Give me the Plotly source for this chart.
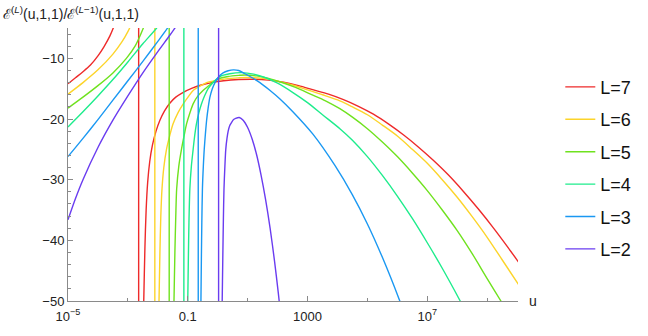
import plotly.graph_objects as go

# ---------------- data (x given as log10(u)) ----------------
SERIES_NAMES = ["L=7", "L=6", "L=5", "L=4", "L=3", "L=2"]
SERIES_COLORS = ["#ee2a2a", "#fcd42a", "#6fe21e", "#1eec8c", "#1a98f2", "#6a3cf0"]

# values used to draw the pole lines (beyond the visible range)
POLE_TOP = 100
POLE_BOTTOM = -200

# L = 7
L7_left_logu = [-5, -4.75, -4.5, -4.25, -4.0, -3.8, -3.6, -3.45, -3.3]
L7_left_val = [-14.2, -13.2, -12.2, -11.1, -9.6, -8.1, -6.3, -4.5, -2.2]
L7_pole_logu = -2.64
L7_right_logu = [-2.56, -2.51, -2.47, -2.43, -2.39, -2.34, -2.27, -2.18, -2.06, -1.93, -1.78, -1.6,
                 -1.4, -1.15, -0.85, -0.55, -0.2, 0.2, 0.7, 1.2, 1.7, 2.2, 2.7, 3.2, 3.7, 4.2, 4.7,
                 5.2, 5.7, 6.2, 6.7, 7.2, 7.7, 8.2, 8.7, 9.2, 9.7, 10.05]
L7_right_val = [-80, -60, -50, -41, -35, -30.5, -27, -24.3, -22.0, -20.2, -18.7, -17.4,
                -16.4, -15.6, -14.9, -14.4, -14.0, -13.7, -13.5, -13.45, -13.6, -13.95, -14.5, -15.2,
                -15.9, -16.8, -17.9, -19.2, -20.8, -22.6, -24.6, -26.8, -29.2, -31.9, -34.8, -37.9,
                -41.2, -43.6]

# L = 6
L6_left_logu = [-5, -4.5, -4.0, -3.5, -3.2, -3.0, -2.85, -2.7]
L6_left_val = [-15.9, -14.0, -11.9, -9.3, -7.3, -5.6, -4.0, -2.0]
L6_pole_logu = -2.10
L6_right_logu = [-2.04, -1.99, -1.96, -1.93, -1.90, -1.86, -1.80, -1.71, -1.60, -1.49, -1.32, -1.15,
                 -0.98, -0.82, -0.6, -0.37, 0.0, 0.4, 0.74, 1.0, 1.5, 2.0, 2.5, 3.0, 3.5, 4.08, 4.5,
                 5.0, 5.5, 6.0, 6.5, 7.0, 7.5, 8.0, 8.5, 9.0, 9.5, 10.05]
L6_right_val = [-80, -58, -50, -42, -36, -31.5, -28, -25, -22.7, -20.8, -18.9, -17.5,
                -16.3, -15.3, -14.6, -14.0, -13.6, -13.3, -13.2, -13.15, -13.3, -13.75, -14.4, -15.2,
                -16.0, -17.0, -18.0, -19.3, -21.0, -22.8, -25.0, -27.3, -30.0, -32.9, -36.1, -39.5,
                -43.2, -47.3]

# L = 5
L5_left_logu = [-5, -4.5, -4.0, -3.5, -3.05, -2.75, -2.5, -2.3]
L5_left_val = [-18.2, -16.4, -14.5, -12.4, -10.0, -7.9, -5.2, -2.6]
L5_pole_logu = -1.62
L5_right_logu = [-1.55, -1.50, -1.46, -1.43, -1.40, -1.37, -1.30, -1.21, -1.12, -1.04, -0.93, -0.82,
                 -0.66, -0.49, -0.25, -0.04, 0.35, 0.74, 0.9, 1.3, 1.7, 2.1, 2.6, 3.1, 3.6, 4.08, 4.5,
                 5.0, 5.5, 6.0, 6.5, 7.0, 7.5, 8.0, 8.5, 9.0, 9.46, 9.8]
L5_right_val = [-80, -60, -50, -42, -36, -31.5, -27.8, -25, -22.7, -20.8, -19.0, -17.5,
                -16.2, -15.3, -14.3, -13.5, -13.0, -12.8, -12.75, -12.9, -13.3, -13.9, -14.8, -15.9,
                -17.0, -18.3, -19.7, -21.6, -23.8, -26.2, -28.9, -31.8, -35.0, -38.4, -42.2, -46.3,
                -50, -52.8]

# L = 4
L4_left_logu = [-5, -4.5, -4.0, -3.5, -3.0, -2.5, -2.04, -1.8]
L4_left_val = [-21.3, -18.8, -16.2, -13.5, -10.6, -7.6, -5.0, -3.3]
L4_pole_logu = -1.13
L4_right_logu = [-1.07, -1.03, -1.00, -0.98, -0.96, -0.93, -0.88, -0.82, -0.77, -0.71, -0.63, -0.54,
                 -0.43, -0.32, -0.12, 0.07, 0.4, 0.8, 1.2, 1.6, 2.0, 2.5, 3.0, 3.5, 4.08, 4.5, 5.0,
                 5.5, 6.0, 6.5, 7.0, 7.5, 8.1, 8.5]
L4_right_val = [-80, -60, -50, -43, -37, -31.5, -27.8, -25, -22.8, -20.8, -19.0, -17.5,
                -16.1, -15.0, -13.8, -13.0, -12.55, -12.35, -12.6, -13.2, -14.1, -15.6, -17.3, -19.3,
                -21.6, -23.5, -26.2, -29.3, -32.7, -36.4, -40.4, -44.6, -50, -53.8]

# L = 3
L3_left_logu = [-5, -4.5, -4.0, -3.5, -3.0, -2.5, -2.0, -1.66, -1.45]
L3_left_val = [-26.2, -23.2, -20.1, -16.9, -13.7, -10.5, -7.2, -4.9, -3.3]
L3_pole_logu = -0.65
L3_right_logu = [-0.60, -0.58, -0.56, -0.545, -0.53, -0.51, -0.48, -0.45, -0.41, -0.37, -0.32, -0.26,
                 -0.18, -0.09, 0.04, 0.18, 0.35, 0.52, 0.7, 0.9, 1.15, 1.41, 1.75, 2.08, 2.51, 3.18,
                 3.92, 4.5, 5.0, 5.5, 6.06, 6.4]
L3_right_val = [-80, -60, -50, -43, -37, -31.5, -27.8, -25, -22.4, -20.2, -18.2, -16.4,
                -15.0, -14.0, -13.0, -12.4, -12.05, -11.9, -12.0, -12.5, -13.2, -14.0, -15.3, -16.7,
                -18.8, -22.5, -27.7, -32.5, -37.3, -42.8, -49.7, -54.3]

# L = 2
L2_left_logu = [-5, -4.75, -4.5, -4.0, -3.5, -3.0, -2.5, -2.0, -1.6, -1.43, -1.2]
L2_left_val = [-36.6, -33.1, -30.0, -24.7, -20.2, -16.2, -12.4, -8.9, -6.2, -5.0, -3.4]
L2_pole_logu = 0.03
L2_right_logu = [0.09, 0.12, 0.15, 0.17, 0.19, 0.21, 0.24, 0.27, 0.31, 0.35, 0.40, 0.46, 0.53, 0.6,
                 0.72, 0.85, 1.0, 1.15, 1.3, 1.45, 1.6, 1.75, 1.9, 2.02, 2.12]
L2_right_val = [-80, -60, -50, -43, -36.5, -31.5, -27.8, -25, -23.2, -22.0, -21.1, -20.6, -20.1, -19.9,
                -19.75, -20.2, -21.4, -23.3, -25.9, -29.3, -33.3, -38.0, -43.5, -48.5, -53]

X_TICK_VALS = [1e-5, 0.1, 1000, 1e7]
X_TICK_TEXT = ["10<sup>\u22125</sup>", "0.1", "1000", "10<sup>7</sup>"]
X_MINOR_VALS = [1e-3, 10, 1e5, 1e9]
Y_TICK_VALS = [-10, -20, -30, -40, -50]

SERIES = [
    (L7_left_logu, L7_left_val, L7_pole_logu, L7_right_logu, L7_right_val),
    (L6_left_logu, L6_left_val, L6_pole_logu, L6_right_logu, L6_right_val),
    (L5_left_logu, L5_left_val, L5_pole_logu, L5_right_logu, L5_right_val),
    (L4_left_logu, L4_left_val, L4_pole_logu, L4_right_logu, L4_right_val),
    (L3_left_logu, L3_left_val, L3_pole_logu, L3_right_logu, L3_right_val),
    (L2_left_logu, L2_left_val, L2_pole_logu, L2_right_logu, L2_right_val),
]

FONT = "Liberation Sans, Arial, sans-serif"

fig = go.Figure()
for name, color, (lt, lv, pt, rt, rv) in zip(SERIES_NAMES, SERIES_COLORS, SERIES):
    xs = [10 ** t for t in lt] + [None] + [10 ** pt, 10 ** pt] + [None] + [10 ** t for t in rt]
    ys = list(lv) + [None] + [POLE_TOP, POLE_BOTTOM] + [None] + list(rv)
    fig.add_trace(go.Scatter(
        x=xs, y=ys, mode="lines", name=name, legendgroup=name,
        line=dict(color=color, width=1.4, shape="spline", smoothing=0.8),
        connectgaps=False,
    ))

axis_gray = "#8a8a8a"
fig.update_layout(
    width=648, height=336,
    margin=dict(l=68, r=128, t=28, b=29),
    paper_bgcolor="white", plot_bgcolor="white",
    font=dict(family=FONT, size=13, color="#222"),
    showlegend=True,
    legend=dict(
        x=1.094, y=0.851, xanchor="left", yanchor="top",
        font=dict(size=18, color="#111"),
        tracegroupgap=6, itemwidth=30,
        bgcolor="rgba(0,0,0,0)",
    ),
    xaxis=dict(
        type="log", range=[-5, 10.03],
        showgrid=False, zeroline=False,
        showline=True, linecolor=axis_gray, linewidth=1,
        ticks="inside", ticklen=5, tickcolor=axis_gray, tickwidth=1,
        tickvals=X_TICK_VALS, ticktext=X_TICK_TEXT,
        tickfont=dict(size=13, color="#222"),
        ticklabelstandoff=3,
        minor=dict(tickvals=X_MINOR_VALS, ticks="inside", ticklen=3, tickcolor=axis_gray),
        fixedrange=True,
    ),
    yaxis=dict(
        range=[-50, -5],
        showgrid=False, zeroline=False,
        showline=True, linecolor=axis_gray, linewidth=1,
        ticks="inside", ticklen=5, tickcolor=axis_gray, tickwidth=1,
        tickvals=Y_TICK_VALS,
        tickfont=dict(size=13, color="#222"),
        minor=dict(dtick=2, ticks="inside", ticklen=3, tickcolor=axis_gray),
        fixedrange=True,
    ),
    annotations=[
        dict(text="u", xref="paper", yref="paper", x=1, y=0, xanchor="left", yanchor="middle",
             xshift=9, showarrow=False, font=dict(size=14, color="#222")),
        dict(text="\u2130<sup>(<i>L</i>)</sup>(u,1,1)/\u2130<sup>(<i>L</i>\u22121)</sup>(u,1,1)",
             xref="paper", yref="paper", x=-0.148, y=1.055, xanchor="left", yanchor="middle",
             showarrow=False, font=dict(size=14, color="#222")),
    ],
)

fig.write_html("out.html")
